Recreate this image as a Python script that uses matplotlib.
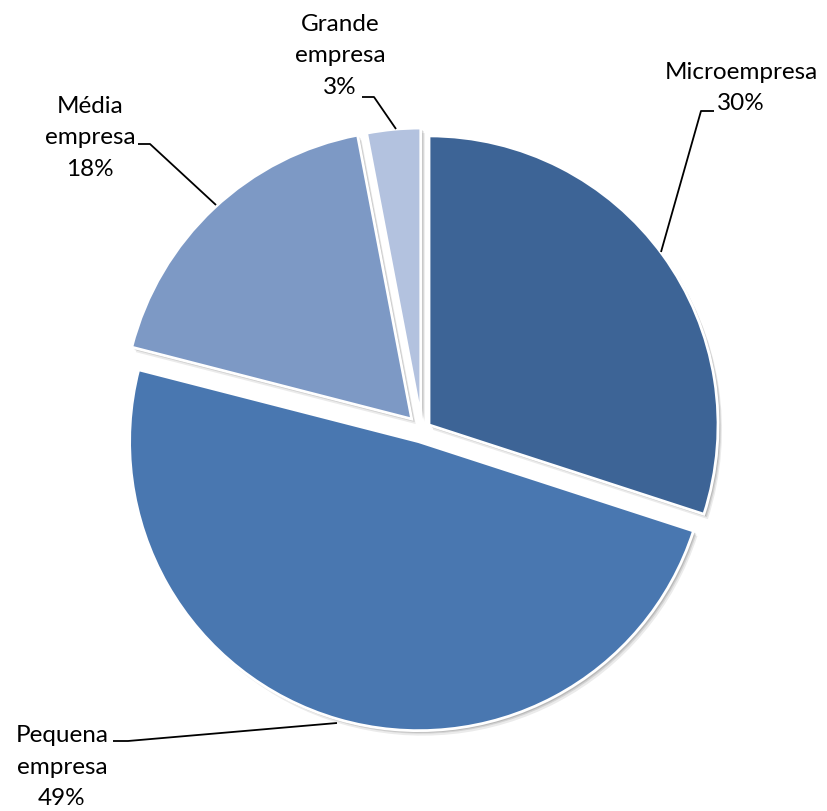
import matplotlib
matplotlib.use("Agg")
import matplotlib.pyplot as plt

# Porte das empresas
categorias = ["Microempresa", "Pequena\nempresa", "Média\nempresa", "Grande\nempresa"]
percentuais = [30, 49, 18, 3]
cores = ["#3D6496", "#4977B0", "#7D99C5", "#B3C2DF"]
afastamento = [0.03, 0.042, 0.052, 0.045]

W, H = 827, 811
fig = plt.figure(figsize=(W / 100, H / 100), dpi=100)
ax = fig.add_axes([0, 0, 1, 1])

centro = (422, H - 430)
raio = 289
# pie() takes explode in data units, so scale by the radius
expl = [a * raio for a in afastamento]

# soft shadow under the slices
for dx, dy, a in [(4, -5, 0.08), (3, -3, 0.10), (2, -2, 0.12)]:
    ax.pie(percentuais, explode=expl, startangle=90,
           counterclock=False, radius=raio,
           center=(centro[0] + dx, centro[1] + dy),
           colors=["#000000"] * 4, frame=True,
           wedgeprops=dict(linewidth=0, alpha=a))

ax.pie(percentuais, explode=expl, startangle=90,
       counterclock=False, radius=raio, center=centro,
       colors=cores, frame=True,
       wedgeprops=dict(edgecolor="white", linewidth=2))
ax.set_xlim(0, W)
ax.set_ylim(0, H)
ax.set_aspect("equal")
ax.axis("off")

fonte = dict(fontsize=17.5, color="black", ha="center", va="center",
             linespacing=1.6, family=["Lato", "DejaVu Sans"])

rotulos = [f"{c}\n{p}%" for c, p in zip(categorias, percentuais)]
pos_rotulos = [(741, 88), (62, 767), (90, 138), (340, 56)]
linhas = [
    [(661, 252), (701, 111), (714, 111)],
    [(337, 723), (128, 741), (113, 741)],
    [(216, 205), (150, 144), (138, 144)],
    [(396, 129), (374, 97), (362, 97)],
]

for texto, (x, y), pts in zip(rotulos, pos_rotulos, linhas):
    ax.text(x, H - y, texto, **fonte)
    xs = [p[0] for p in pts]
    ys = [H - p[1] for p in pts]
    ax.plot(xs, ys, color="black", linewidth=1.3, solid_capstyle="butt")

fig.savefig("out.png", dpi=100)
